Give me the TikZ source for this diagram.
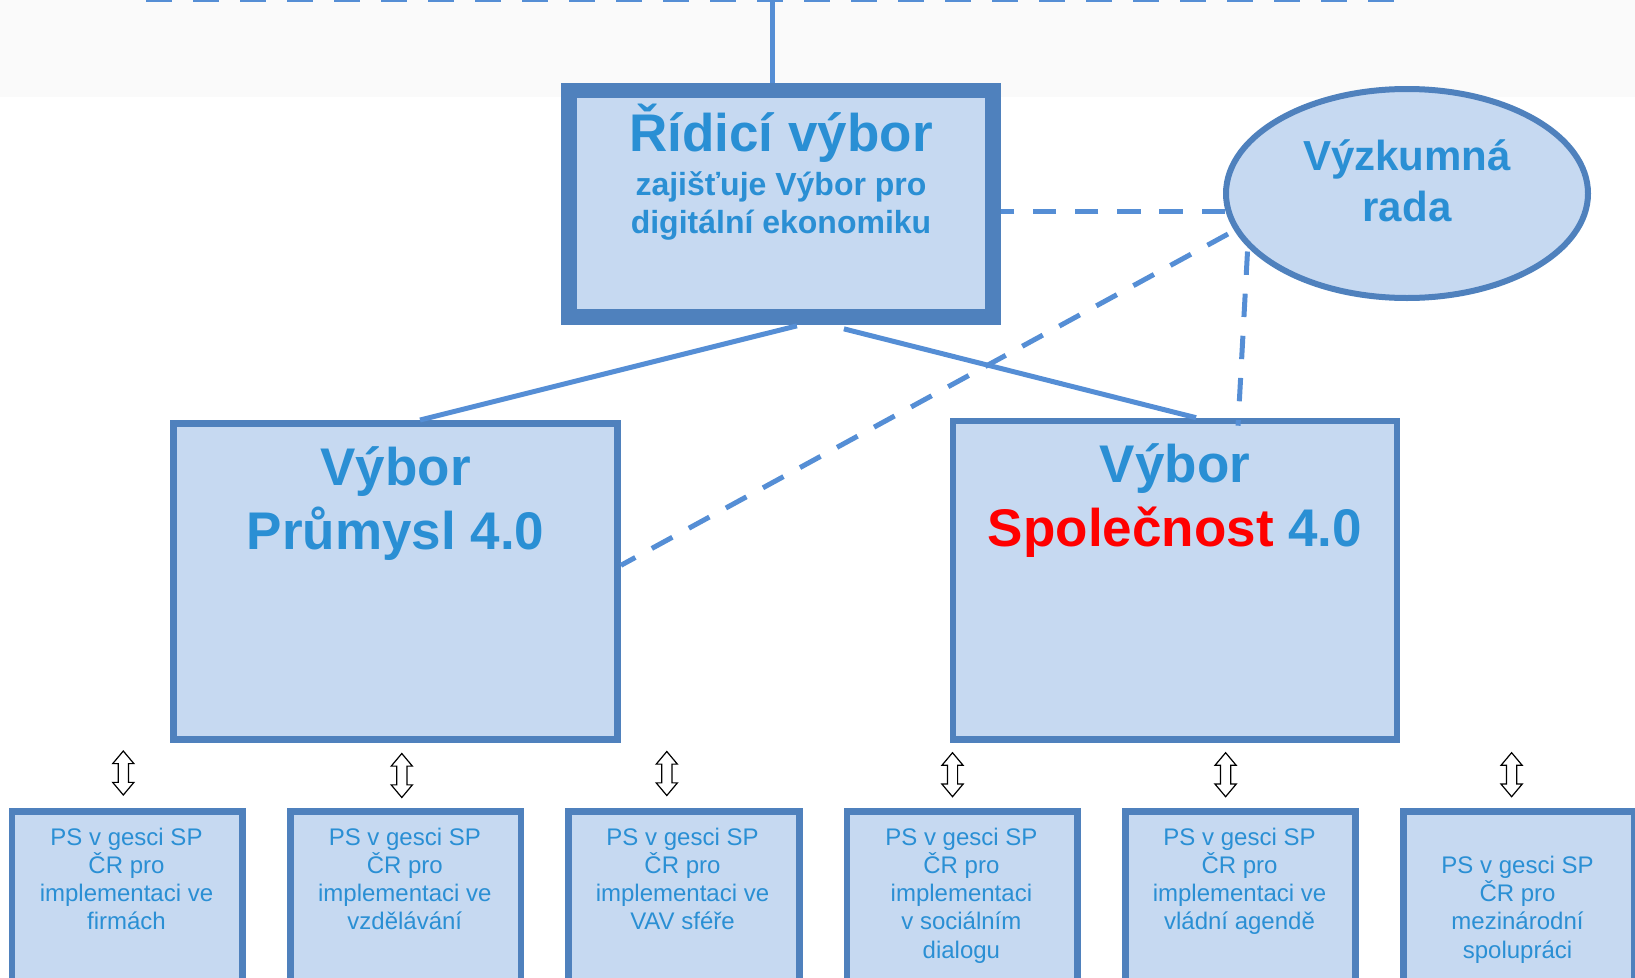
\documentclass[tikz,border=0pt]{standalone}
\usepackage{fontspec}
\setmainfont{Liberation Sans}
\usepackage{tikz}
\usetikzlibrary{shapes,calc}

\definecolor{ramec}{HTML}{4F81BD}
\definecolor{vypln}{HTML}{C6D9F1}
\definecolor{spojbarva}{HTML}{558ED5}
\definecolor{pismo}{HTML}{2A8FD4}
\definecolor{pas}{HTML}{FAFAFA}

\begin{document}
\begin{tikzpicture}[x=1pt,y=-1pt]
      \tikzstyle{box}=[rectangle,draw=ramec,fill=vypln,inner sep=0pt]
      \tikzstyle{vybor}=[box,line width=6.6pt,minimum width=444pt]
      \tikzstyle{ps}=[box,line width=6.7pt,minimum width=230.5pt,minimum height=220pt]
      \tikzstyle{nadpis}=[text=pismo,font=\bfseries\fontsize{53}{64}\selectfont,align=center,anchor=base,inner sep=0pt]
      \tikzstyle{podnadpis}=[nadpis,font=\bfseries\fontsize{32}{38}\selectfont]
      \tikzstyle{radatext}=[nadpis,font=\bfseries\fontsize{42}{51.7}\selectfont]
      \tikzstyle{pstext}=[text=pismo,font=\fontsize{24}{28.3}\selectfont,align=center,anchor=base,inner sep=0pt]
      \tikzstyle{obe}=[double arrow,draw=black,fill=white,line width=1.2pt,minimum height=44pt,minimum width=20pt,inner sep=4.5pt,double arrow head extend=5.5pt,double arrow tip angle=80,rotate=90]
      \tikzstyle{cara}=[draw=spojbarva,line width=5pt]
      \tikzstyle{carky}=[cara,dash pattern=on 23.4pt off 18.8pt]
      \useasboundingbox (0,0) rectangle (1635,977);
      \clip (0,0) rectangle (1635,977);
      % horni pas
      \fill[pas] (0,0) rectangle (1635,97);
      \coordinate (hornilevy) at (146,-1);
      \coordinate (hornipravy) at (1397,-1);
      \coordinate (hornistred) at (772.7,0);
      \draw[cara,dash pattern=on 26pt off 21pt] (hornilevy) -- (hornipravy);
      % ridici vybor a rada (base = posledni radek)
      \node[box,line width=15.7pt,minimum width=424.2pt,minimum height=226.5pt] (ridici) at (780.9,203.75) {};
      \node[nadpis] (riditxt) at (781,151.7) {Řídicí výbor};
      \node[podnadpis] (ridipod) at (781,233) {zajišťuje Výbor pro\\digitální ekonomiku};
      \node[ellipse,draw=ramec,fill=vypln,line width=6pt,minimum width=362pt,minimum height=209pt,inner sep=0pt] (rada) at (1407,193.5) {};
      \node[radatext] (radatxt) at (1407,221.7) {Výzkumná\\rada};
      % vybory
      \node[vybor,minimum height=316pt] (prumysl) at (395.65,581.3) {};
      \node[nadpis] (prumysltxt) at (395.65,549) {Výbor\\Průmysl 4.0};
      \node[vybor,minimum height=318.3pt] (spolecnost) at (1175,580.15) {};
      \node[nadpis] (spoltxt) at (1175,546) {Výbor\\{\color{red}Společnost} 4.0};
      % pracovni skupiny
      \node[ps] (ps1) at (127.3,921.7) {};
      \node[ps] (ps2) at (405.6,921.7) {};
      \node[ps] (ps3) at (683.9,921.7) {};
      \node[ps] (ps4) at (962.2,921.7) {};
      \node[ps] (ps5) at (1240.5,921.7) {};
      \node[ps] (ps6) at (1518.8,921.7) {};
      \node[pstext] (ps1txt) at (126.5,929.9) {PS v gesci SP\\ČR pro\\implementaci ve\\firmách};
      \node[pstext] (ps2txt) at (404.8,929.9) {PS v gesci SP\\ČR pro\\implementaci ve\\vzdělávání};
      \node[pstext] (ps3txt) at (682.5,929.9) {PS v gesci SP\\ČR pro\\implementaci ve\\VAV sféře};
      \node[pstext] (ps4txt) at (961.4,958.2) {PS v gesci SP\\ČR pro\\implementaci\\v sociálním\\dialogu};
      \node[pstext] (ps5txt) at (1239.5,929.9) {PS v gesci SP\\ČR pro\\implementaci ve\\vládní agendě};
      \node[pstext] (ps6txt) at (1517.5,958.2) {PS v gesci SP\\ČR pro\\mezinárodní\\spolupráci};
      \node[obe] (sipka1) at (123.3,773) {};
      \node[obe] (sipka2) at (401.8,775.5) {};
      \node[obe] (sipka3) at (666.8,773.5) {};
      \node[obe] (sipka4) at (952.5,774.7) {};
      \node[obe] (sipka5) at (1225.6,774.7) {};
      \node[obe] (sipka6) at (1511.6,774.7) {};
      % spojnice
      \draw[cara] (hornistred) -- (hornistred |- ridici.north);
      \draw[cara] ($(ridici.south)+(16,1)$) -- ($(prumysl.north)+(24.4,0)$);
      \draw[cara] ($(ridici.south)+(63,4)$) -- ($(spolecnost.north)+(21,0)$);
      \draw[carky] ($(rada.center)+(-182,17.5)$) -- ($(ridici.east)+(0,7.25)$);
      \draw[carky] ($(rada.center)+(-179,40.5)$) -- ($(prumysl.east)+(0,-16)$);
      \draw[carky] ($(rada.center)+(-159.5,58)$) -- ($(spolecnost.north)+(63,8)$);
\end{tikzpicture}
\end{document}
